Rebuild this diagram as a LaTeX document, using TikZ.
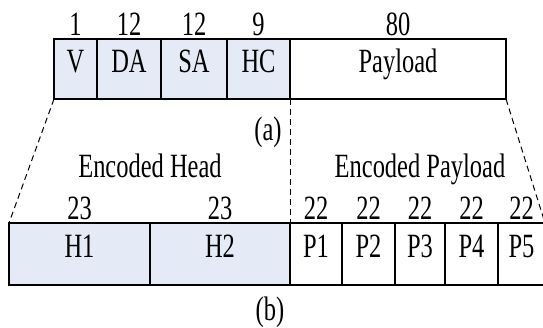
\documentclass[tikz,border=0pt]{standalone}
\usepackage{fontspec}
\setmainfont[FakeStretch=0.72]{Liberation Serif}
\usetikzlibrary{positioning}
\definecolor{headfill}{RGB}{228,234,246}

\begin{document}
\begin{tikzpicture}[x=1pt,y=1pt,font=\fontsize{34}{38}\selectfont,
	field/.style={draw, line width=1.2pt, minimum width=#1, minimum height=60pt,
		inner sep=0pt, outer sep=0pt, text height=0.66em, text depth=0pt},
	head/.style={fill=headfill},
	bits/.style={inner sep=0pt},
	split/.style={dashed, line width=1pt, dash pattern=on 6pt off 4pt}]
	\useasboundingbox (0,0) rectangle (543,328);
	% header + payload before encoding
	\node[field=43pt, head, anchor=west] (v) at (54,259) {V};
	\node[field=64pt, head, right=0pt of v] (da) {DA};
	\node[field=66pt, head, right=0pt of da] (sa) {SA};
	\node[field=63pt, head, right=0pt of sa] (hc) {HC};
	\node[field=216pt, right=0pt of hc] (pl) {Payload};
	\node[bits, above=3pt of v] {1};
	\node[bits, above=3pt of da] {12};
	\node[bits, above=3pt of sa] {12};
	\node[bits, above=3pt of hc] {9};
	\node[bits, above=3pt of pl] {80};
	\node[anchor=base] (capa) at (268,187) {(a)};
	% encoded blocks
	\node[field=141pt, head, minimum height=62pt, anchor=west] (h1) at (9,74) {H1};
	\node[field=140pt, head, minimum height=62pt, right=0pt of h1] (h2) {H2};
	\node[field=52pt, minimum height=62pt, right=0pt of h2] (p1) {P1};
	\node[field=53pt, minimum height=62pt, right=0pt of p1] (p2) {P2};
	\node[field=50pt, minimum height=62pt, right=0pt of p2] (p3) {P3};
	\node[field=53pt, minimum height=62pt, right=0pt of p3] (p4) {P4};
	\node[field=47pt, minimum height=62pt, right=0pt of p4] (p5) {P5};
	\node[bits, above=3pt of h1] (n1) {23};
	\node[bits, above=3pt of h2] (n2) {23};
	\node[bits, above=3pt of p1] {22};
	\node[bits, above=3pt of p2] {22};
	\node[bits, above=3pt of p3] {22};
	\node[bits, above=3pt of p4] {22};
	\node[bits, above=3pt of p5] {22};
	\node[anchor=base] (ehead) at (150,150) {Encoded Head};
	\node[anchor=base] (epay) at (420,150) {Encoded Payload};
	\node[anchor=base] (capb) at (270,7) {(b)};
	% mapping lines
	\draw[split] (v.south west) -- (h1.north west);
	\draw[split] (hc.south east) -- (p1.north west);
	\draw[split] (pl.south east) -- (p5.north east);
\end{tikzpicture}
\end{document}
